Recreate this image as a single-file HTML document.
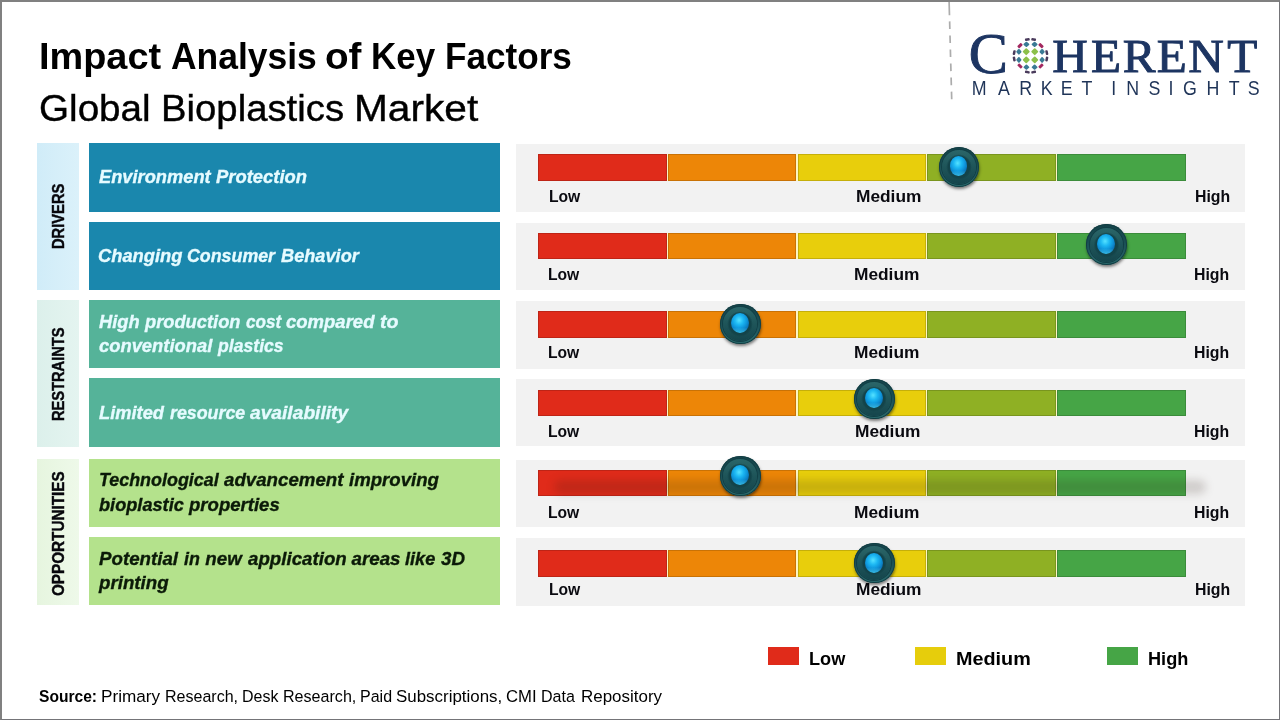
<!DOCTYPE html>
<html lang="en">
<head>
<meta charset="utf-8">
<title>Impact Analysis of Key Factors - Global Bioplastics Market</title>
<style>
html,body{margin:0;padding:0;}
body{width:1280px;height:720px;position:relative;overflow:hidden;background:#fff;font-family:"Liberation Sans",sans-serif;color:#000;}
.abs{position:absolute;}
.frame{position:absolute;left:0;top:0;width:1280px;height:720px;box-sizing:border-box;border-style:solid;border-color:#808080 #747478 #747478 #808080;border-width:2px 1px 1px 2px;z-index:50;pointer-events:none;}
.t{position:absolute;white-space:nowrap;transform-origin:0 50%;line-height:1;}
.title{color:#000;}
.b{font-weight:bold;}
.thick{-webkit-text-stroke:0.4px currentColor;}
.bi{font-weight:bold;font-style:italic;-webkit-text-stroke:0.35px currentColor;}
.w{color:#e6fbff;}
.k{color:#0b1a08;}
.side{position:absolute;left:37px;width:42px;}
.rot{position:absolute;width:0;height:0;transform:rotate(-90deg);}
.rot .t{left:0;font-weight:bold;color:#07070c;-webkit-text-stroke:0.45px currentColor;}
.box{position:absolute;left:89px;width:411px;}
.blue{background:#1a87ad;} .teal{background:#55b399;} .green{background:#b4e28c;}
.panel{position:absolute;left:516px;width:729px;background:#f2f2f2;}
.lab{color:#0a0a10;}
.knob{position:absolute;width:40.6px;height:40.6px;border-radius:50%;
 background:linear-gradient(180deg,#154349 0%,#1a4f55 45%,#2a6a6d 100%);
 box-shadow:0.5px 2px 3px rgba(0,0,0,.5), inset 0 0 0 0.9px #123d43;z-index:5;}
.knob:before{content:"";position:absolute;left:3.4px;top:3.4px;right:3.4px;bottom:3.4px;border-radius:50%;
 background:radial-gradient(circle at 50% 50%,#134349 0,#134349 10.8px,rgba(19,67,73,0) 12.8px),linear-gradient(180deg,#2b6669 0%,#1f565a 45%,#15454c 100%);
 box-shadow:0 0 0 1px #123f46;}
.knob:after{content:"";position:absolute;left:11.2px;top:9.8px;width:17.8px;height:20px;border-radius:50%;
 background:linear-gradient(180deg,rgba(70,215,250,0) 72%,rgba(70,215,250,.75) 100%),radial-gradient(ellipse 62% 60% at 45% 36%, #55e2ff 0, #1db8f3 38%, #0f97dc 68%, #0a6eb2 100%);}
.leg{position:absolute;top:647px;width:31px;height:18px;}
</style>
</head>
<body>
<div class="frame"></div>

<div id="t1"><div class="t title b" style="left:39.48px;top:38.32px;font-size:37.55px;transform:scaleX(1.0085);">Impact</div><div class="t title b" style="left:170.56px;top:38.32px;font-size:37.55px;transform:scaleX(0.9441);">Analysis</div><div class="t title b" style="left:325.46px;top:38.32px;font-size:37.55px;transform:scaleX(1.0294);">of</div><div class="t title b" style="left:371.42px;top:38.32px;font-size:37.55px;transform:scaleX(0.9321);">Key</div><div class="t title b" style="left:445.16px;top:38.32px;font-size:37.55px;transform:scaleX(0.9354);">Factors</div></div>
<div id="t2"><div class="t title thick" style="left:39.45px;top:90.12px;font-size:37.55px;transform:scaleX(1.0288);">Global</div><div class="t title thick" style="left:161.19px;top:90.12px;font-size:37.55px;transform:scaleX(1.0200);">Bioplastics</div><div class="t title thick" style="left:354.00px;top:90.12px;font-size:37.55px;transform:scaleX(1.0830);">Market</div></div>

<svg class="abs" style="left:0;top:0" width="1280" height="110" viewBox="0 0 1280 110">
<line x1="949.1" y1="1.3" x2="951.7" y2="99.3" stroke="#acacac" stroke-width="1.7" stroke-dasharray="14 6.1 7.6 6.45 7.6 6.45 7.6 6.45 7.6 6.45 7.6 6.45 7.6 6.45"/>
<g fill="#1d3562" stroke="#1d3562" stroke-width="0.9" font-family="'Liberation Serif',serif">
<text transform="scale(1.04,1)" x="931.59" y="72.8" font-size="56.4">C</text>
<text transform="scale(1.07,1)" x="983.35 1019.66 1049.40 1081.15 1110.45 1146.90" y="72.0" font-size="46.0">HERENT</text>
</g>
<text transform="scale(0.9,1)" x="1079.64 1109.01 1132.61 1156.36 1178.62 1201.62 1224.19 1234.75 1251.51 1276.07 1298.47 1314.43 1340.51 1365.35 1386.46" y="94.7" font-size="19.8" fill="#1f3458" font-family="'Liberation Sans',sans-serif">MARKET INSIGHTS</text>
<g transform="translate(1030.5,55.8)">
<rect x="-2.69" y="-2.69" width="5.37" height="5.37" rx="0.9" fill="#8cc04a" transform="translate(-4.25,-4.1) scale(1,1.000) rotate(45)"/>
<rect x="-2.69" y="-2.69" width="5.37" height="5.37" rx="0.9" fill="#8cc04a" transform="translate(-4.25,4.1) scale(1,1.000) rotate(45)"/>
<rect x="-2.69" y="-2.69" width="5.37" height="5.37" rx="0.9" fill="#8cc04a" transform="translate(4.25,-4.1) scale(1,1.000) rotate(45)"/>
<rect x="-2.69" y="-2.69" width="5.37" height="5.37" rx="0.9" fill="#8cc04a" transform="translate(4.25,4.1) scale(1,1.000) rotate(45)"/>
<rect x="-2.33" y="-2.33" width="4.67" height="4.67" rx="0.9" fill="#3a7a95" transform="translate(-4.1,-11.4) scale(1,0.879) rotate(45)"/>
<rect x="-2.05" y="-2.05" width="4.10" height="4.10" rx="0.9" fill="#3a7a95" transform="translate(-11.6,-4.1) scale(1,1.138) rotate(45)"/>
<rect x="-2.6" y="-1.5" width="5.2" height="3.0" rx="0.8" fill="#a3285f" transform="translate(-10.5,-10.2) rotate(-45)"/>
<rect x="-2.33" y="-2.33" width="4.67" height="4.67" rx="0.9" fill="#3a7a95" transform="translate(-4.1,11.4) scale(1,0.879) rotate(45)"/>
<rect x="-2.05" y="-2.05" width="4.10" height="4.10" rx="0.9" fill="#3a7a95" transform="translate(-11.6,4.1) scale(1,1.138) rotate(45)"/>
<rect x="-2.6" y="-1.5" width="5.2" height="3.0" rx="0.8" fill="#a3285f" transform="translate(-10.5,10.2) rotate(45)"/>
<rect x="-2.33" y="-2.33" width="4.67" height="4.67" rx="0.9" fill="#3a7a95" transform="translate(4.1,-11.4) scale(1,0.879) rotate(45)"/>
<rect x="-2.05" y="-2.05" width="4.10" height="4.10" rx="0.9" fill="#3a7a95" transform="translate(11.6,-4.1) scale(1,1.138) rotate(45)"/>
<rect x="-2.6" y="-1.5" width="5.2" height="3.0" rx="0.8" fill="#a3285f" transform="translate(10.5,-10.2) rotate(45)"/>
<rect x="-2.33" y="-2.33" width="4.67" height="4.67" rx="0.9" fill="#3a7a95" transform="translate(4.1,11.4) scale(1,0.879) rotate(45)"/>
<rect x="-2.05" y="-2.05" width="4.10" height="4.10" rx="0.9" fill="#3a7a95" transform="translate(11.6,4.1) scale(1,1.138) rotate(45)"/>
<rect x="-2.6" y="-1.5" width="5.2" height="3.0" rx="0.8" fill="#a3285f" transform="translate(10.5,10.2) rotate(-45)"/>
<rect x="-1.25" y="-2.4" width="2.5" height="4.8" rx="0.9" fill="#4a3b5c" transform="translate(16.30,-3.17) rotate(-11)"/>
<rect x="-1.25" y="-2.4" width="2.5" height="4.8" rx="0.9" fill="#4a3b5c" transform="translate(16.30,3.17) rotate(11)"/>
<rect x="-1.25" y="-2.4" width="2.5" height="4.8" rx="0.9" fill="#4a3b5c" transform="translate(3.17,16.30) rotate(79)"/>
<rect x="-1.25" y="-2.4" width="2.5" height="4.8" rx="0.9" fill="#4a3b5c" transform="translate(-3.17,16.30) rotate(101)"/>
<rect x="-1.25" y="-2.4" width="2.5" height="4.8" rx="0.9" fill="#4a3b5c" transform="translate(-16.30,3.17) rotate(169)"/>
<rect x="-1.25" y="-2.4" width="2.5" height="4.8" rx="0.9" fill="#4a3b5c" transform="translate(-16.30,-3.17) rotate(191)"/>
<rect x="-1.25" y="-2.4" width="2.5" height="4.8" rx="0.9" fill="#4a3b5c" transform="translate(-3.17,-16.30) rotate(259)"/>
<rect x="-1.25" y="-2.4" width="2.5" height="4.8" rx="0.9" fill="#4a3b5c" transform="translate(3.17,-16.30) rotate(281)"/>
</g>
</svg>

<!-- sidebars -->
<div class="side" style="top:143px;height:147px;background:linear-gradient(90deg,#d0ecf8,#dbf1fa);"></div>
<div class="side" style="top:300px;height:147px;background:linear-gradient(90deg,#dcf0eb,#e4f4f0);"></div>
<div class="side" style="top:459px;height:146px;background:linear-gradient(90deg,#e6f5df,#eef9e9);"></div>

<div class="rot" style="left:64.1px;top:248.80px;"><div class="t" id="s1" style="top:-14.05px;font-size:17.1px;transform:scaleX(0.8597);">DRIVERS</div></div>
<div class="rot" style="left:64.1px;top:420.60px;"><div class="t" id="s2" style="top:-14.05px;font-size:17.1px;transform:scaleX(0.8562);">RESTRAINTS</div></div>
<div class="rot" style="left:64.0px;top:596.10px;"><div class="t" id="s3" style="top:-14.05px;font-size:17.1px;transform:scaleX(0.8928);">OPPORTUNITIES</div></div>

<!-- factor boxes -->
<div class="box blue" style="top:143px;height:69px;"></div>
<div id="b1"><div class="t bi w" style="left:99.01px;top:168.22px;font-size:18.77px;transform:scaleX(0.9739);">Environment</div><div class="t bi w" style="left:216.25px;top:168.22px;font-size:18.77px;transform:scaleX(0.9809);">Protection</div></div>
<div class="box blue" style="top:222px;height:68px;"></div>
<div id="b2"><div class="t bi w" style="left:98.27px;top:246.72px;font-size:18.77px;transform:scaleX(0.9765);">Changing</div><div class="t bi w" style="left:187.05px;top:246.72px;font-size:18.77px;transform:scaleX(0.9488);">Consumer</div><div class="t bi w" style="left:281.01px;top:246.72px;font-size:18.77px;transform:scaleX(0.9691);">Behavior</div></div>
<div class="box teal" style="top:300px;height:68px;"></div>
<div id="b3a"><div class="t bi w" style="left:99.01px;top:313.22px;font-size:18.77px;transform:scaleX(0.9755);">High</div><div class="t bi w" style="left:145.49px;top:313.22px;font-size:18.77px;transform:scaleX(0.9744);">production</div><div class="t bi w" style="left:245.80px;top:313.22px;font-size:18.77px;transform:scaleX(0.9097);">cost</div><div class="t bi w" style="left:286.01px;top:313.22px;font-size:18.77px;transform:scaleX(0.9860);">compared</div><div class="t bi w" style="left:379.72px;top:313.22px;font-size:18.77px;transform:scaleX(1.0462);">to</div></div><div id="b3b"><div class="t bi w" style="left:99.01px;top:336.81px;font-size:18.77px;transform:scaleX(0.9784);">conventional</div><div class="t bi w" style="left:218.22px;top:336.81px;font-size:18.77px;transform:scaleX(0.9391);">plastics</div></div>
<div class="box teal" style="top:378px;height:68.5px;"></div>
<div id="b4"><div class="t bi w" style="left:99.26px;top:403.92px;font-size:18.77px;transform:scaleX(0.9738);">Limited</div><div class="t bi w" style="left:169.76px;top:403.92px;font-size:18.77px;transform:scaleX(0.9490);">resource</div><div class="t bi w" style="left:250.00px;top:403.92px;font-size:18.77px;transform:scaleX(1.0233);">availability</div></div>
<div class="box green" style="top:459px;height:67.7px;"></div>
<div id="b5a"><div class="t bi k" style="left:98.81px;top:471.42px;font-size:18.77px;transform:scaleX(0.9538);">Technological</div><div class="t bi k" style="left:224.25px;top:471.42px;font-size:18.77px;transform:scaleX(0.9959);">advancement</div><div class="t bi k" style="left:349.25px;top:471.42px;font-size:18.77px;transform:scaleX(0.9917);">improving</div></div><div id="b5b"><div class="t bi k" style="left:99.26px;top:495.62px;font-size:18.77px;transform:scaleX(0.9684);">bioplastic</div><div class="t bi k" style="left:189.24px;top:495.62px;font-size:18.77px;transform:scaleX(0.9891);">properties</div></div>
<div class="box green" style="top:537.4px;height:67.2px;"></div>
<div id="b6a"><div class="t bi k" style="left:99.25px;top:549.72px;font-size:18.77px;transform:scaleX(0.9968);">Potential</div><div class="t bi k" style="left:184.01px;top:549.72px;font-size:18.77px;transform:scaleX(0.9524);">in</div><div class="t bi k" style="left:205.25px;top:549.72px;font-size:18.77px;transform:scaleX(1.0000);">new</div><div class="t bi k" style="left:247.50px;top:549.72px;font-size:18.77px;transform:scaleX(0.9975);">application</div><div class="t bi k" style="left:351.50px;top:549.72px;font-size:18.77px;transform:scaleX(1.0000);">areas</div><div class="t bi k" style="left:405.26px;top:549.72px;font-size:18.77px;transform:scaleX(0.9672);">like</div><div class="t bi k" style="left:441.00px;top:549.72px;font-size:18.77px;transform:scaleX(1.0000);">3D</div></div><div id="b6b"><div class="t bi k" style="left:99.00px;top:574.12px;font-size:18.77px;transform:scaleX(0.9964);">printing</div></div>

<div class="panel" style="top:144.0px;height:68.0px;"></div>
<div class="abs" style="left:538px;top:154.0px;width:648px;height:26.7px;background:#fcf5c4;"></div>
<div class="abs" style="left:538px;top:154.0px;width:129.2px;height:26.7px;background:#e02b1a;box-shadow:inset 0 0 0 1px rgba(0,0,0,.15);"></div>
<div class="abs" style="left:668.0px;top:154.0px;width:128.4px;height:26.7px;background:#ed8607;box-shadow:inset 0 0 0 1px rgba(0,0,0,.15);"></div>
<div class="abs" style="left:798.0px;top:154.0px;width:128.2px;height:26.7px;background:#e8ce0c;box-shadow:inset 0 0 0 1px rgba(0,0,0,.15);"></div>
<div class="abs" style="left:927.0px;top:154.0px;width:129.2px;height:26.7px;background:#8fb024;box-shadow:inset 0 0 0 1px rgba(0,0,0,.15);"></div>
<div class="abs" style="left:1057.0px;top:154.0px;width:129.0px;height:26.7px;background:#46a546;box-shadow:inset 0 0 0 1px rgba(0,0,0,.15);"></div>
<div id="p0low"><div class="t b lab" style="left:548.80px;top:187.69px;font-size:16.43px;transform:scaleX(0.9528);">Low</div></div>
<div id="p0med"><div class="t b lab" style="left:855.70px;top:187.69px;font-size:16.43px;transform:scaleX(1.0542);">Medium</div></div>
<div id="p0high"><div class="t b lab" style="left:1195.04px;top:187.69px;font-size:16.43px;transform:scaleX(0.9638);">High</div></div>
<div class="knob" style="left:938.5px;top:146.5px;"></div>
<div class="panel" style="top:223.0px;height:67.0px;"></div>
<div class="abs" style="left:538px;top:233.0px;width:648px;height:25.9px;background:#fcf5c4;"></div>
<div class="abs" style="left:538px;top:233.0px;width:129.2px;height:25.9px;background:#e02b1a;box-shadow:inset 0 0 0 1px rgba(0,0,0,.15);"></div>
<div class="abs" style="left:668.0px;top:233.0px;width:128.4px;height:25.9px;background:#ed8607;box-shadow:inset 0 0 0 1px rgba(0,0,0,.15);"></div>
<div class="abs" style="left:798.0px;top:233.0px;width:128.2px;height:25.9px;background:#e8ce0c;box-shadow:inset 0 0 0 1px rgba(0,0,0,.15);"></div>
<div class="abs" style="left:927.0px;top:233.0px;width:129.2px;height:25.9px;background:#8fb024;box-shadow:inset 0 0 0 1px rgba(0,0,0,.15);"></div>
<div class="abs" style="left:1057.0px;top:233.0px;width:129.0px;height:25.9px;background:#46a546;box-shadow:inset 0 0 0 1px rgba(0,0,0,.15);"></div>
<div id="p1low"><div class="t b lab" style="left:547.55px;top:266.04px;font-size:16.43px;transform:scaleX(0.9528);">Low</div></div>
<div id="p1med"><div class="t b lab" style="left:854.45px;top:266.04px;font-size:16.43px;transform:scaleX(1.0542);">Medium</div></div>
<div id="p1high"><div class="t b lab" style="left:1194.04px;top:266.04px;font-size:16.43px;transform:scaleX(0.9638);">High</div></div>
<div class="knob" style="left:1086.2px;top:224.4px;"></div>
<div class="panel" style="top:301.0px;height:67.7px;"></div>
<div class="abs" style="left:538px;top:311.2px;width:648px;height:26.4px;background:#fcf5c4;"></div>
<div class="abs" style="left:538px;top:311.2px;width:129.2px;height:26.4px;background:#e02b1a;box-shadow:inset 0 0 0 1px rgba(0,0,0,.15);"></div>
<div class="abs" style="left:668.0px;top:311.2px;width:128.4px;height:26.4px;background:#ed8607;box-shadow:inset 0 0 0 1px rgba(0,0,0,.15);"></div>
<div class="abs" style="left:798.0px;top:311.2px;width:128.2px;height:26.4px;background:#e8ce0c;box-shadow:inset 0 0 0 1px rgba(0,0,0,.15);"></div>
<div class="abs" style="left:927.0px;top:311.2px;width:129.2px;height:26.4px;background:#8fb024;box-shadow:inset 0 0 0 1px rgba(0,0,0,.15);"></div>
<div class="abs" style="left:1057.0px;top:311.2px;width:129.0px;height:26.4px;background:#46a546;box-shadow:inset 0 0 0 1px rgba(0,0,0,.15);"></div>
<div id="p2low"><div class="t b lab" style="left:547.55px;top:344.04px;font-size:16.43px;transform:scaleX(0.9528);">Low</div></div>
<div id="p2med"><div class="t b lab" style="left:854.45px;top:344.04px;font-size:16.43px;transform:scaleX(1.0542);">Medium</div></div>
<div id="p2high"><div class="t b lab" style="left:1194.04px;top:344.04px;font-size:16.43px;transform:scaleX(0.9638);">High</div></div>
<div class="knob" style="left:720.0px;top:303.7px;"></div>
<div class="panel" style="top:379.2px;height:67.3px;"></div>
<div class="abs" style="left:538px;top:390.1px;width:648px;height:25.5px;background:#fcf5c4;"></div>
<div class="abs" style="left:538px;top:390.1px;width:129.2px;height:25.5px;background:#e02b1a;box-shadow:inset 0 0 0 1px rgba(0,0,0,.15);"></div>
<div class="abs" style="left:668.0px;top:390.1px;width:128.4px;height:25.5px;background:#ed8607;box-shadow:inset 0 0 0 1px rgba(0,0,0,.15);"></div>
<div class="abs" style="left:798.0px;top:390.1px;width:128.2px;height:25.5px;background:#e8ce0c;box-shadow:inset 0 0 0 1px rgba(0,0,0,.15);"></div>
<div class="abs" style="left:927.0px;top:390.1px;width:129.2px;height:25.5px;background:#8fb024;box-shadow:inset 0 0 0 1px rgba(0,0,0,.15);"></div>
<div class="abs" style="left:1057.0px;top:390.1px;width:129.0px;height:25.5px;background:#46a546;box-shadow:inset 0 0 0 1px rgba(0,0,0,.15);"></div>
<div id="p3low"><div class="t b lab" style="left:547.55px;top:423.04px;font-size:16.43px;transform:scaleX(0.9528);">Low</div></div>
<div id="p3med"><div class="t b lab" style="left:854.70px;top:423.04px;font-size:16.43px;transform:scaleX(1.0542);">Medium</div></div>
<div id="p3high"><div class="t b lab" style="left:1194.04px;top:423.04px;font-size:16.43px;transform:scaleX(0.9638);">High</div></div>
<div class="knob" style="left:854.1px;top:378.7px;"></div>
<div class="panel" style="top:460.1px;height:66.7px;"></div>
<div class="abs" style="left:538px;top:470.1px;width:648px;height:25.7px;background:#fcf5c4;"></div>
<div class="abs" style="left:538px;top:470.1px;width:129.2px;height:25.7px;background:#e02b1a;box-shadow:inset 0 0 0 1px rgba(0,0,0,.15);"></div>
<div class="abs" style="left:668.0px;top:470.1px;width:128.4px;height:25.7px;background:#ed8607;box-shadow:inset 0 0 0 1px rgba(0,0,0,.15);"></div>
<div class="abs" style="left:798.0px;top:470.1px;width:128.2px;height:25.7px;background:#e8ce0c;box-shadow:inset 0 0 0 1px rgba(0,0,0,.15);"></div>
<div class="abs" style="left:927.0px;top:470.1px;width:129.2px;height:25.7px;background:#8fb024;box-shadow:inset 0 0 0 1px rgba(0,0,0,.15);"></div>
<div class="abs" style="left:1057.0px;top:470.1px;width:129.0px;height:25.7px;background:#46a546;box-shadow:inset 0 0 0 1px rgba(0,0,0,.15);"></div>
<div class="abs" style="left:554px;top:479.6px;width:652px;height:14px;background:rgba(40,25,10,.17);filter:blur(4px);border-radius:7px;"></div>
<div id="p4low"><div class="t b lab" style="left:547.55px;top:503.58px;font-size:16.43px;transform:scaleX(0.9528);">Low</div></div>
<div id="p4med"><div class="t b lab" style="left:854.45px;top:503.58px;font-size:16.43px;transform:scaleX(1.0542);">Medium</div></div>
<div id="p4high"><div class="t b lab" style="left:1194.04px;top:503.58px;font-size:16.43px;transform:scaleX(0.9638);">High</div></div>
<div class="knob" style="left:720.1px;top:455.7px;"></div>
<div class="panel" style="top:538.0px;height:67.7px;"></div>
<div class="abs" style="left:538px;top:550.1px;width:648px;height:26.6px;background:#fcf5c4;"></div>
<div class="abs" style="left:538px;top:550.1px;width:129.2px;height:26.6px;background:#e02b1a;box-shadow:inset 0 0 0 1px rgba(0,0,0,.15);"></div>
<div class="abs" style="left:668.0px;top:550.1px;width:128.4px;height:26.6px;background:#ed8607;box-shadow:inset 0 0 0 1px rgba(0,0,0,.15);"></div>
<div class="abs" style="left:798.0px;top:550.1px;width:128.2px;height:26.6px;background:#e8ce0c;box-shadow:inset 0 0 0 1px rgba(0,0,0,.15);"></div>
<div class="abs" style="left:927.0px;top:550.1px;width:129.2px;height:26.6px;background:#8fb024;box-shadow:inset 0 0 0 1px rgba(0,0,0,.15);"></div>
<div class="abs" style="left:1057.0px;top:550.1px;width:129.0px;height:26.6px;background:#46a546;box-shadow:inset 0 0 0 1px rgba(0,0,0,.15);"></div>
<div id="p5low"><div class="t b lab" style="left:548.80px;top:581.49px;font-size:16.43px;transform:scaleX(0.9528);">Low</div></div>
<div id="p5med"><div class="t b lab" style="left:855.95px;top:581.49px;font-size:16.43px;transform:scaleX(1.0542);">Medium</div></div>
<div id="p5high"><div class="t b lab" style="left:1195.04px;top:581.49px;font-size:16.43px;transform:scaleX(0.9638);">High</div></div>
<div class="knob" style="left:854.1px;top:542.8px;"></div>

<!-- legend -->
<div class="leg" style="left:768px;background:#e02b1a;"></div>
<div id="l1"><div class="t b" style="left:808.54px;top:650.12px;font-size:18.77px;transform:scaleX(0.9655);">Low</div></div>
<div class="leg" style="left:915px;background:#e6cd0c;"></div>
<div id="l2"><div class="t b" style="left:955.68px;top:650.12px;font-size:18.77px;transform:scaleX(1.0547);">Medium</div></div>
<div class="leg" style="left:1107px;background:#46a546;"></div>
<div id="l3"><div class="t b" style="left:1147.54px;top:650.12px;font-size:18.77px;transform:scaleX(0.9682);">High</div></div>

<div id="src"><div class="t src b" style="left:39.03px;top:687.53px;font-size:16.43px;transform:scaleX(0.9492);">Source:</div><div class="t src" style="left:100.94px;top:687.53px;font-size:16.43px;transform:scaleX(1.0452);">Primary</div><div class="t src" style="left:164.53px;top:687.53px;font-size:16.43px;transform:scaleX(0.9758);">Research,</div><div class="t src" style="left:241.78px;top:687.53px;font-size:16.43px;transform:scaleX(0.9722);">Desk</div><div class="t src" style="left:282.53px;top:687.53px;font-size:16.43px;transform:scaleX(0.9792);">Research,</div><div class="t src" style="left:360.03px;top:687.53px;font-size:16.43px;transform:scaleX(0.9754);">Paid</div><div class="t src" style="left:396.23px;top:687.53px;font-size:16.43px;transform:scaleX(1.0297);">Subscriptions,</div><div class="t src" style="left:506.24px;top:687.53px;font-size:16.43px;transform:scaleX(1.0179);">CMI</div><div class="t src" style="left:541.28px;top:687.53px;font-size:16.43px;transform:scaleX(0.9776);">Data</div><div class="t src" style="left:580.71px;top:687.53px;font-size:16.43px;transform:scaleX(1.0324);">Repository</div></div>
</body>
</html>
